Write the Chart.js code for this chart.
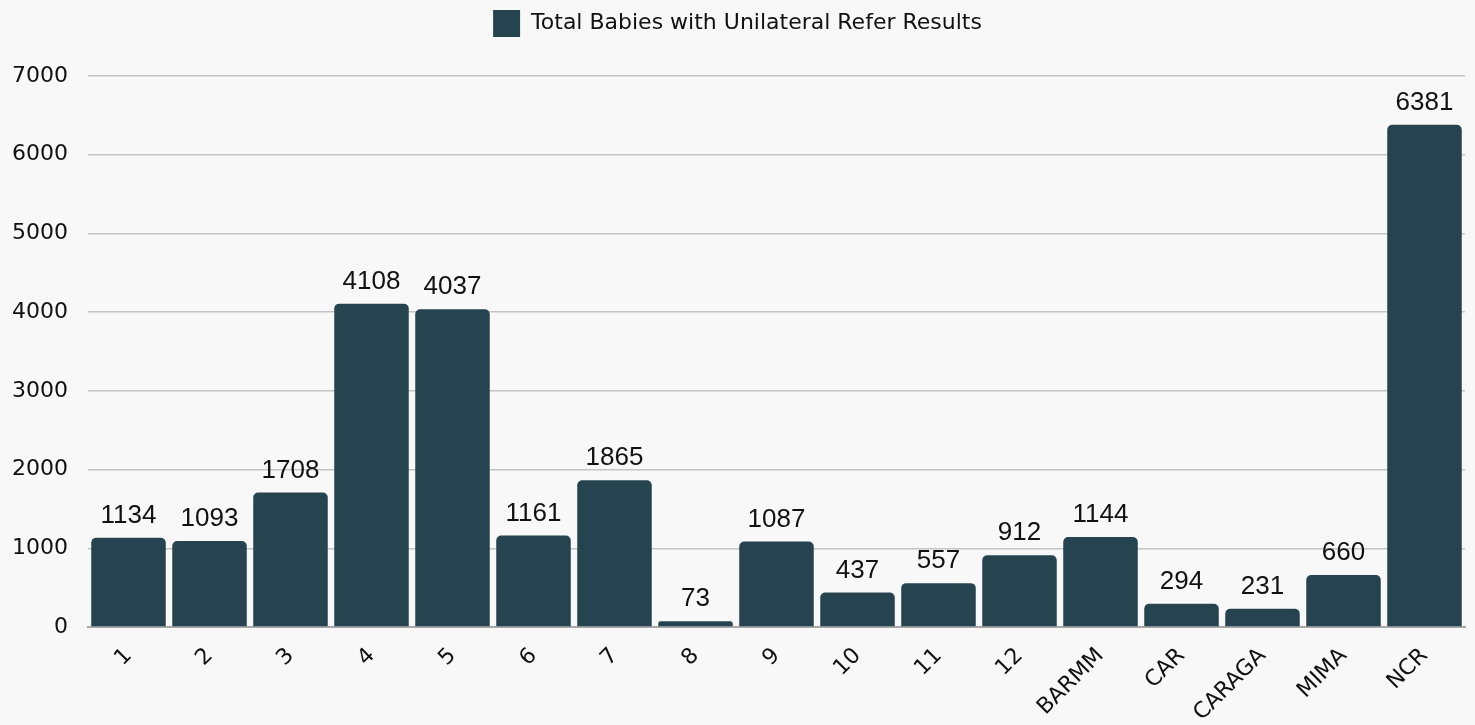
<!DOCTYPE html>
<html>
<head>
<meta charset="utf-8">
<script src="https://cdn.jsdelivr.net/npm/chart.js@4/dist/chart.umd.min.js"></script>
<style>
  html, body { margin: 0; padding: 0; background: #f8f8f8; }
  #wrap { width: 1475px; height: 725px; position: relative; }
</style>
</head>
<body>
<div id="wrap"><canvas id="barChart"></canvas></div>
<script>
// ==========================
// Data
// ==========================
const regions = ['1', '2', '3', '4', '5', '6', '7', '8', '9', '10', '11', '12', 'BARMM', 'CAR', 'CARAGA', 'MIMA', 'NCR'];
const unilateralRefer = [1134, 1093, 1708, 4108, 4037, 1161, 1865, 73, 1087, 437, 557, 912, 1144, 294, 231, 660, 6381];
const seriesLabel = 'Total Babies with Unilateral Refer Results';
const yTicks = [0, 1000, 2000, 3000, 4000, 5000, 6000, 7000];

const barColor = '#25444f';
const axisFont = 'DejaVu Sans';

// ==========================
// Value labels above bars
// ==========================
const valueLabels = {
  id: 'valueLabels',
  afterDatasetsDraw(chart) {
    const ctx = chart.ctx;
    const meta = chart.getDatasetMeta(0);
    ctx.save();
    ctx.font = '26px "Liberation Sans", Arial, sans-serif';
    ctx.fillStyle = '#111';
    ctx.textAlign = 'center';
    ctx.textBaseline = 'middle';
    meta.data.forEach((bar, i) => {
      ctx.fillText(String(chart.data.datasets[0].data[i]), bar.x, bar.y - 22);
    });
    ctx.restore();
  }
};

// Extra space under the legend
const legendGap = {
  id: 'legendGap',
  beforeInit(chart) {
    const fit = chart.legend.fit;
    chart.legend.fit = function () {
      fit.bind(chart.legend)();
      this.height += 29;
    };
  }
};

// ==========================
// Chart
// ==========================
new Chart(document.getElementById('barChart'), {
  type: 'bar',
  data: {
    labels: regions,
    datasets: [{
      label: seriesLabel,
      data: unilateralRefer,
      backgroundColor: barColor,
      borderRadius: { topLeft: 5, topRight: 5 },
      borderSkipped: 'bottom',
      categoryPercentage: 1.0,
      barPercentage: 0.92
    }]
  },
  options: {
    responsive: true,
    maintainAspectRatio: false,
    animation: false,
    layout: { padding: { left: 10, right: 10, top: 0, bottom: 0 } },
    plugins: {
      legend: {
        position: 'top',
        labels: {
          boxWidth: 27,
          boxHeight: 27,
          padding: 10,
          color: '#111',
          font: { family: axisFont, size: 22 }
        }
      },
      tooltip: { enabled: false }
    },
    scales: {
      x: {
        grid: { display: false },
        border: { display: true, color: '#a8a8a8', width: 2 },
        afterFit: s => { s.height = 98; },
        ticks: {
          color: '#111',
          maxRotation: 45,
          minRotation: 45,
          padding: 8,
          font: { family: axisFont, size: 22 }
        }
      },
      y: {
        min: 0,
        max: 7000,
        afterBuildTicks: axis => { axis.ticks = yTicks.map(v => ({ value: v })); },
        afterFit: s => { s.width = 78; },
        grid: { color: '#c4c4c4', lineWidth: 1.5, drawTicks: false },
        border: { display: false },
        ticks: {
          color: '#111',
          padding: 20,
          callback: v => String(v),
          font: { family: axisFont, size: 22 }
        }
      }
    }
  },
  plugins: [valueLabels, legendGap]
});
</script>
</body>
</html>
